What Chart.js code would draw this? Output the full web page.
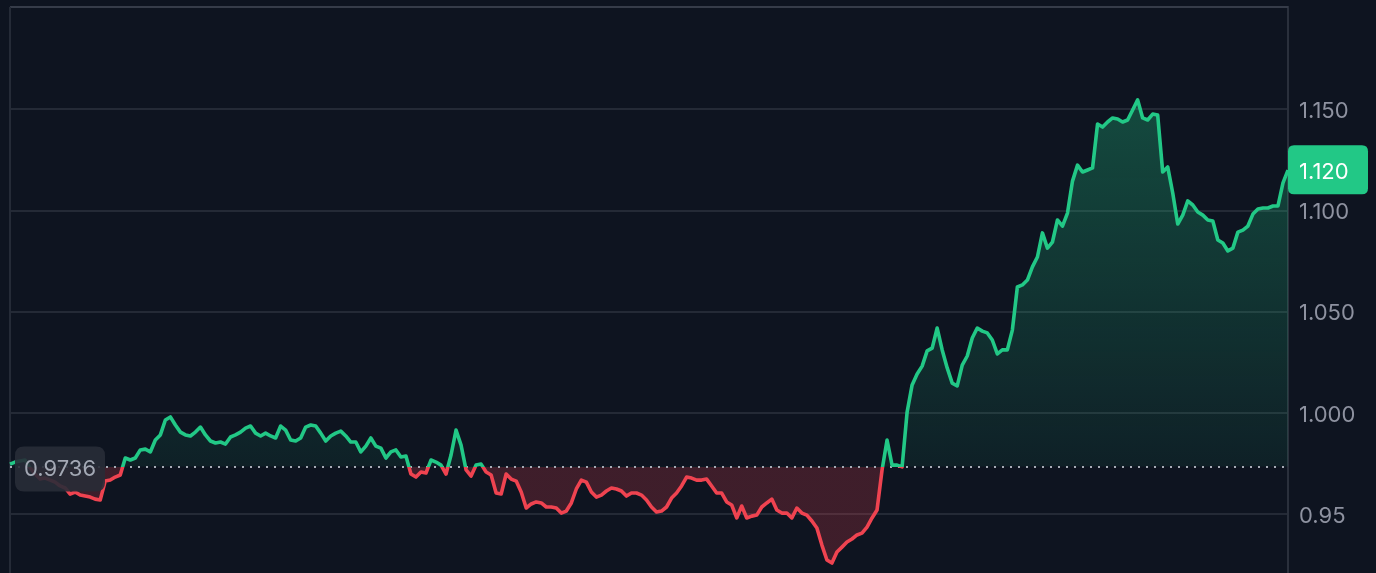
<!DOCTYPE html>
<html>
<head>
<meta charset="utf-8">
<script src="https://cdn.jsdelivr.net/npm/chart.js@4/dist/chart.umd.min.js"></script>
<style>
  html, body { margin: 0; padding: 0; background: #0e1420; }
  #wrap { width: 1376px; height: 573px; position: relative; }
</style>
</head>
<body>
<div id="wrap"><canvas id="price-chart"></canvas></div>
<script>
"use strict";

// price series (one point every ~5px of the original)
const PRICES = [
  0.9748, 0.9758, 0.9763, 0.9768, 0.9729, 0.9699, 0.9674, 0.9679, 0.9669, 0.9659,
  0.9640, 0.9630, 0.9600, 0.9610, 0.9595, 0.9590, 0.9585, 0.9575, 0.9571, 0.9664,
  0.9669, 0.9684, 0.9694, 0.9778, 0.9768, 0.9778, 0.9818, 0.9822, 0.9808, 0.9867,
  0.9892, 0.9966, 0.9981, 0.9941, 0.9906, 0.9892, 0.9887, 0.9906, 0.9931, 0.9892,
  0.9862, 0.9852, 0.9857, 0.9847, 0.9882, 0.9892, 0.9906, 0.9926, 0.9936, 0.9901,
  0.9887, 0.9901, 0.9887, 0.9877, 0.9936, 0.9916, 0.9867, 0.9862, 0.9877, 0.9931,
  0.9941, 0.9936, 0.9901, 0.9862, 0.9887, 0.9901, 0.9911, 0.9887, 0.9857, 0.9857,
  0.9808, 0.9837, 0.9877, 0.9837, 0.9827, 0.9778, 0.9808, 0.9818, 0.9783, 0.9788,
  0.9699, 0.9684, 0.9709, 0.9704, 0.9768, 0.9758, 0.9743, 0.9699, 0.9793, 0.9916,
  0.9842, 0.9719, 0.9689, 0.9743, 0.9748, 0.9709, 0.9694, 0.9605, 0.9600, 0.9699,
  0.9674, 0.9664, 0.9610, 0.9531, 0.9551, 0.9561, 0.9556, 0.9536, 0.9536, 0.9531,
  0.9506, 0.9516, 0.9556, 0.9625, 0.9669, 0.9659, 0.9610, 0.9585, 0.9595, 0.9615,
  0.9630, 0.9625, 0.9615, 0.9590, 0.9605, 0.9605, 0.9595, 0.9571, 0.9536, 0.9511,
  0.9516, 0.9536, 0.9580, 0.9605, 0.9640, 0.9684, 0.9679, 0.9669, 0.9669, 0.9674,
  0.9640, 0.9605, 0.9605, 0.9561, 0.9546, 0.9482, 0.9541, 0.9482, 0.9491, 0.9496,
  0.9536, 0.9556, 0.9575, 0.9521, 0.9506, 0.9506, 0.9482, 0.9531, 0.9506, 0.9496,
  0.9467, 0.9432, 0.9348, 0.9274, 0.9259, 0.9314, 0.9338, 0.9363, 0.9378, 0.9398,
  0.9407, 0.9437, 0.9482, 0.9521, 0.9719, 0.9867, 0.9743, 0.9743, 0.9734, 1.0005,
  1.0139, 1.0193, 1.0232, 1.0307, 1.0321, 1.0420, 1.0312, 1.0223, 1.0148, 1.0134,
  1.0237, 1.0282, 1.0371, 1.0420, 1.0405, 1.0396, 1.0361, 1.0292, 1.0312, 1.0312,
  1.0410, 1.0623, 1.0633, 1.0657, 1.0722, 1.0771, 1.0890, 1.0815, 1.0845, 1.0954,
  1.0924, 1.0988, 1.1146, 1.1225, 1.1191, 1.1201, 1.1211, 1.1428, 1.1413, 1.1438,
  1.1458, 1.1453, 1.1438, 1.1448, 1.1497, 1.1547, 1.1458, 1.1448, 1.1477, 1.1472,
  1.1191, 1.1216, 1.1087, 1.0934, 1.0978, 1.1048, 1.1028, 1.0993, 1.0978, 1.0954,
  1.0949, 1.0855, 1.0840, 1.0801, 1.0815, 1.0894, 1.0904, 1.0924, 1.0983, 1.1008,
  1.1013, 1.1013, 1.1023, 1.1023, 1.1137, 1.1200
];
const LABELS = PRICES.map((_, i) => i);

const BASELINE = 0.9736;              // opening price, dotted line
const BASELINE_TEXT = "0.9736";
const LAST_TEXT = "1.120";

const TICK_VALUES = [0.95, 1.0, 1.05, 1.1, 1.15];
const TICK_LABELS = ["0.95", "1.000", "1.050", "1.100", "1.150"];
const Y_MIN = 0.921;
const Y_MAX = 1.2006;

const GREEN = "#22c886";
const RED = "#ef4350";
const FONT = "Inter, 'Noto Sans', sans-serif";

// vertical gradient that switches from green to red at the baseline
function splitGradient(chart, topColor, baseAbove, baseBelow, bottomColor) {
  const area = chart.chartArea;
  const yScale = chart.scales.y;
  if (!area || !yScale) return null;
  const yb = yScale.getPixelForValue(BASELINE);
  let f = (yb - area.top) / (area.bottom - area.top);
  f = Math.min(1, Math.max(0, f));
  const g = chart.ctx.createLinearGradient(0, area.top, 0, area.bottom);
  g.addColorStop(0, topColor);
  g.addColorStop(f, baseAbove);
  g.addColorStop(f, baseBelow);
  g.addColorStop(1, bottomColor);
  return g;
}

function roundRect(ctx, x, y, w, h, r) {
  ctx.beginPath();
  ctx.moveTo(x + r, y);
  ctx.lineTo(x + w - r, y);
  ctx.quadraticCurveTo(x + w, y, x + w, y + r);
  ctx.lineTo(x + w, y + h - r);
  ctx.quadraticCurveTo(x + w, y + h, x + w - r, y + h);
  ctx.lineTo(x + r, y + h);
  ctx.quadraticCurveTo(x, y + h, x, y + h - r);
  ctx.lineTo(x, y + r);
  ctx.quadraticCurveTo(x, y, x + r, y);
  ctx.closePath();
}

// frame (top + left edges) and the dotted baseline
const framePlugin = {
  id: "frame",
  beforeDatasetsDraw(chart) {
    const { ctx, chartArea: a, scales } = chart;
    ctx.save();
    ctx.lineWidth = 2;
    ctx.strokeStyle = "#363c49";
    ctx.beginPath();
    ctx.moveTo(a.left, a.top);
    ctx.lineTo(a.right, a.top);
    ctx.stroke();
    ctx.strokeStyle = "#252b37";
    ctx.beginPath();
    ctx.moveTo(a.left, a.top);
    ctx.lineTo(a.left, a.bottom);
    ctx.stroke();

    const yb = Math.round(scales.y.getPixelForValue(BASELINE));
    ctx.strokeStyle = "#a7acb6";
    ctx.setLineDash([2, 6]);
    ctx.beginPath();
    ctx.moveTo(a.left, yb);
    ctx.lineTo(a.right, yb);
    ctx.stroke();
    ctx.restore();
  }
};

// price tags: last price on the right axis, opening price on the left
const tagPlugin = {
  id: "tags",
  afterDatasetsDraw(chart) {
    const { ctx, chartArea: a, scales } = chart;
    const y = scales.y;
    ctx.save();
    ctx.font = "22px " + FONT;
    ctx.textBaseline = "middle";
    ctx.textAlign = "left";

    const yl = y.getPixelForValue(PRICES[PRICES.length - 1]);
    ctx.fillStyle = GREEN;
    roundRect(ctx, a.right, yl - 25, 80, 49, 6);
    ctx.fill();
    ctx.fillStyle = "#ffffff";
    ctx.fillText(LAST_TEXT, a.right + 11, yl + 2);

    const yb = y.getPixelForValue(BASELINE);
    ctx.fillStyle = "rgba(40, 44, 55, 0.9)";
    roundRect(ctx, a.left + 5, yb - 20, 90, 45, 9);
    ctx.fill();
    ctx.fillStyle = "#a3a8b4";
    ctx.fillText(BASELINE_TEXT, a.left + 14, yb + 3);
    ctx.restore();
  }
};

const chart = new Chart(document.getElementById("price-chart"), {
  type: "line",
  data: {
    labels: LABELS,
    datasets: [{
      data: PRICES,
      borderWidth: 3.6,
      borderJoinStyle: "round",
      tension: 0,
      pointRadius: 0,
      borderColor: (c) => splitGradient(c.chart, GREEN, GREEN, RED, RED) || GREEN,
      backgroundColor: (c) => splitGradient(c.chart,
        "rgba(34, 200, 134, 0.36)", "rgba(34, 200, 134, 0.07)",
        "rgba(239, 67, 80, 0.22)", "rgba(239, 67, 80, 0.22)") || "rgba(34,200,134,0.2)",
      fill: { target: { value: BASELINE } }
    }]
  },
  options: {
    responsive: true,
    maintainAspectRatio: false,
    animation: false,
    layout: { padding: { left: 10, top: 7, right: 0, bottom: 0 } },
    plugins: {
      legend: { display: false },
      tooltip: { enabled: false },
      filler: { drawTime: "beforeDatasetsDraw" }
    },
    scales: {
      x: { display: false },
      y: {
        position: "right",
        min: Y_MIN,
        max: Y_MAX,
        afterBuildTicks: (scale) => { scale.ticks = TICK_VALUES.map(v => ({ value: v })); },
        afterFit: (scale) => {
          scale.width = 88;
          scale.paddingTop = 0;
          scale.paddingBottom = 0;
        },
        grid: { color: "#242a36", lineWidth: 2, drawTicks: false },
        border: { display: true, color: "#2a303c", width: 2 },
        ticks: {
          padding: 11,
          labelOffset: 2,
          color: "#8e92a0",
          font: { family: FONT, size: 22 },
          callback: (v) => {
            const i = TICK_VALUES.findIndex(t => Math.abs(t - v) < 1e-6);
            return i >= 0 ? TICK_LABELS[i] : "";
          }
        }
      }
    }
  },
  plugins: [framePlugin, tagPlugin]
});
</script>
</body>
</html>
